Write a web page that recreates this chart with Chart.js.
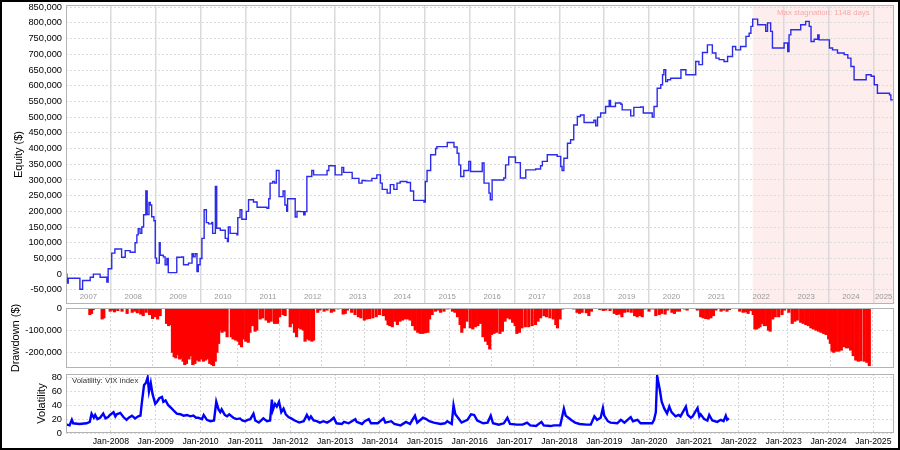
<!DOCTYPE html>
<html>
<head>
<meta charset="utf-8">
<script src="https://cdn.jsdelivr.net/npm/chart.js@4.4.1/dist/chart.umd.min.js"></script>
<style>
  body { margin: 0; background: #fff; }
  #wrap { position: relative; width: 900px; height: 450px; overflow: hidden; background: #fff; }
  #wrap canvas { position: absolute; left: 0; }
  #edge { position: absolute; left: 0; top: 0; width: 900px; height: 450px; box-sizing: border-box; border: 2px solid #000; pointer-events: none; }
</style>
</head>
<body>
<div id="wrap">
  <canvas id="equityGraph" width="900" height="306" style="top:0"></canvas>
  <canvas id="ddGraph" width="900" height="92" style="top:290px"></canvas>
  <canvas id="vixGraph" width="900" height="80" style="top:370px"></canvas>
  <div id="edge"></div>
</div>
<script>
// x range in decimal years
var xMin = 2007.0, xMax = 2025.46;
var janYears = [2008,2009,2010,2011,2012,2013,2014,2015,2016,2017,2018,2019,2020,2021,2022,2023,2024,2025];
var bandYears = [2007,2008,2009,2010,2011,2012,2013,2014,2015,2016,2017,2018,2019,2020,2021,2022,2023,2024,2025];

var stagnationStart = 2022.31;
var stagnationLabel = "Max stagnation: 1148 days";

// equity curve ($), step points
var equityX = [2007.00,2007.02,2007.05,2007.31,2007.37,2007.54,2007.61,2007.76,2007.91,2007.94,
  2008.02,2008.09,2008.24,2008.32,2008.43,2008.54,2008.58,2008.61,2008.65,2008.69,2008.73,2008.78,2008.81,2008.85,2008.88,2008.91,2008.96,2008.99,
  2009.02,2009.08,2009.10,2009.17,2009.21,2009.25,2009.28,2009.47,2009.58,2009.62,2009.73,2009.81,2009.84,2009.88,2009.92,2009.95,2009.99,
  2010.03,2010.08,2010.13,2010.18,2010.25,2010.27,2010.33,2010.36,2010.44,2010.55,2010.60,2010.62,2010.66,2010.81,2010.83,2010.88,2010.92,
  2011.02,2011.07,2011.18,2011.26,2011.48,2011.52,2011.55,2011.61,2011.65,2011.69,2011.75,2011.84,2011.88,2011.92,2011.94,
  2012.07,2012.11,2012.15,2012.22,2012.30,2012.33,2012.37,2012.48,2012.52,2012.82,2012.86,
  2013.00,2013.15,2013.19,2013.38,2013.53,2013.60,2013.67,2013.82,2013.93,
  2014.01,2014.05,2014.16,2014.23,2014.31,2014.38,2014.45,2014.60,2014.68,2014.75,2014.98,
  2015.01,2015.05,2015.13,2015.24,2015.27,2015.50,2015.65,2015.72,2015.76,2015.80,2015.87,2015.98,
  2016.02,2016.28,2016.32,2016.43,2016.46,2016.50,2016.76,2016.80,2016.87,
  2017.02,2017.13,2017.25,2017.47,2017.58,2017.62,2017.73,2017.95,
  2018.03,2018.06,2018.10,2018.18,2018.25,2018.32,2018.40,2018.47,2018.55,2018.77,2018.81,2018.85,2018.92,
  2019.03,2019.11,2019.14,2019.25,2019.37,2019.40,2019.59,2019.66,2019.81,2019.87,
  2020.07,2020.11,2020.18,2020.26,2020.30,2020.33,2020.37,2020.41,2020.48,2020.71,2020.82,
  2021.04,2021.11,2021.19,2021.30,2021.41,2021.49,2021.56,2021.67,2021.75,2021.86,2021.93,
  2022.04,2022.16,2022.23,2022.27,2022.31,2022.42,2022.60,2022.64,2022.71,2022.75,
  2023.01,2023.09,2023.12,2023.16,2023.38,2023.49,2023.57,2023.61,2023.68,2023.76,2023.79,
  2024.02,2024.09,2024.20,2024.35,2024.43,2024.50,2024.57,2024.84,2024.95,
  2025.02,2025.09,2025.36,2025.39,2025.46];
var equityY = [0,-28000,-13000,-48000,-20000,-10000,0,-10000,-25000,17000,
  67000,80000,54000,75000,70000,100000,125000,145000,130000,150000,189000,265000,190000,228000,220000,183000,170000,51000,
  35000,100000,60000,55000,30000,50000,5000,54000,55000,30000,35000,65000,55000,65000,8000,30000,50000,
  114000,205000,164000,160000,165000,130000,279000,146000,140000,114000,104000,150000,130000,125000,180000,205000,175000,
  200000,237000,230000,213000,210000,240000,290000,295000,290000,330000,247000,265000,220000,200000,240000,
  240000,182000,200000,199000,189000,199000,311000,330000,316000,330000,345000,
  316000,340000,324000,305000,290000,298000,297000,305000,316000,
  290000,270000,258000,285000,270000,290000,295000,292000,265000,235000,230000,
  295000,330000,380000,400000,406000,419000,405000,385000,348000,311000,330000,359000,
  327000,354000,290000,258000,237000,300000,306000,348000,373000,
  355000,306000,332000,335000,345000,359000,380000,375000,
  343000,330000,369000,417000,428000,475000,502000,507000,483000,490000,472000,500000,513000,
  534000,553000,534000,545000,541000,523000,504000,531000,532000,513000,
  500000,534000,592000,603000,635000,651000,613000,619000,624000,651000,635000,
  677000,667000,706000,730000,704000,688000,683000,677000,693000,725000,714000,
  725000,757000,767000,789000,812000,794000,773000,800000,773000,720000,
  736000,709000,762000,778000,794000,805000,789000,741000,748000,762000,746000,
  720000,714000,704000,699000,688000,661000,619000,635000,630000,
  603000,576000,571000,555000,555000];

// drawdown bars ($)
var ddX = [2007.02,2007.06,2007.10,2007.31,2007.35,2007.50,2007.55,2007.60,2007.68,2007.78,2007.90,
  2008.02,2008.08,2008.14,2008.22,2008.28,2008.35,2008.43,2008.50,2008.56,2008.62,2008.68,2008.83,2008.88,2008.93,2008.97,
  2009.01,2009.05,2009.10,2009.14,2009.18,2009.22,2009.26,2009.30,2009.36,2009.41,2009.45,2009.50,2009.56,2009.60,2009.65,2009.70,2009.75,2009.80,2009.85,2009.90,2009.94,2009.98,
  2010.02,2010.06,2010.10,2010.14,2010.20,2010.26,2010.36,2010.40,2010.46,2010.52,2010.56,2010.60,2010.64,2010.70,2010.76,2010.80,2010.86,2010.92,2010.96,
  2011.04,2011.10,2011.18,2011.24,2011.30,2011.38,2011.45,2011.50,2011.58,2011.63,2011.75,2011.80,2011.85,2011.90,2011.94,
  2012.00,2012.06,2012.10,2012.15,2012.20,2012.26,2012.30,2012.40,2012.45,2012.55,2012.62,2012.72,2012.78,2012.88,
  2013.00,2013.05,2013.10,2013.20,2013.28,2013.36,2013.42,2013.50,2013.56,2013.62,2013.70,2013.78,2013.86,2013.95,
  2014.02,2014.06,2014.10,2014.16,2014.22,2014.28,2014.34,2014.40,2014.46,2014.52,2014.58,2014.64,2014.70,2014.76,2014.82,2014.88,2014.94,
  2015.00,2015.04,2015.10,2015.18,2015.24,2015.30,2015.38,2015.46,2015.58,2015.64,2015.70,2015.76,2015.80,2015.86,2015.92,
  2016.00,2016.06,2016.12,2016.18,2016.24,2016.30,2016.36,2016.42,2016.46,2016.50,2016.56,2016.62,2016.70,2016.76,2016.82,2016.88,2016.94,
  2017.00,2017.06,2017.10,2017.16,2017.22,2017.30,2017.38,2017.46,2017.54,2017.60,2017.66,2017.74,2017.80,2017.88,2017.96,
  2018.02,2018.06,2018.12,2018.18,2018.26,2018.44,2018.52,2018.58,2018.64,2018.74,2018.80,2018.86,
  2019.06,2019.14,2019.20,2019.30,2019.40,2019.46,2019.52,2019.58,2019.64,2019.72,2019.80,2019.88,2019.94,
  2020.00,2020.06,2020.12,2020.22,2020.30,2020.38,2020.46,2020.52,2020.60,2020.66,2020.76,2020.82,2020.88,2020.94,
  2021.06,2021.12,2021.36,2021.44,2021.50,2021.56,2021.62,2021.68,2021.74,2021.80,2021.92,2021.98,
  2022.06,2022.12,2022.36,2022.44,2022.50,2022.56,2022.62,2022.68,2022.72,2022.76,2022.80,2022.84,2022.88,2022.94,
  2023.00,2023.04,2023.08,2023.14,2023.20,2023.28,2023.36,2023.42,2023.52,2023.60,2023.66,2023.72,2023.80,2023.86,2023.92,2023.98,
  2024.04,2024.10,2024.16,2024.22,2024.28,2024.34,2024.40,2024.46,2024.50,2024.54,2024.58,2024.64,2024.70,2024.76,2024.82,2024.88,2024.94,2024.98,
  2025.04,2025.10,2025.16,2025.22,2025.30,2025.36,2025.42];
var ddY = [-30000,-25000,-8000,-50000,-45000,-15000,-10000,-18000,-12000,-15000,-25000,
  -20000,-15000,-22000,-28000,-35000,-20000,-30000,-48000,-40000,-50000,-35000,-70000,-80000,-75000,-200000,
  -220000,-225000,-210000,-230000,-225000,-240000,-255000,-250000,-230000,-215000,-255000,-250000,-235000,-240000,-230000,-240000,-235000,-230000,-250000,-255000,-260000,-240000,
  -200000,-160000,-100000,-110000,-105000,-130000,-130000,-140000,-145000,-150000,-165000,-175000,-140000,-150000,-155000,-110000,-80000,-105000,-100000,
  -50000,-45000,-55000,-65000,-60000,-70000,-70000,-40000,-30000,-35000,-85000,-70000,-110000,-130000,-90000,
  -95000,-100000,-150000,-140000,-145000,-150000,-145000,-20000,-10000,-15000,-10000,-20000,-15000,-5000,
  -28000,-25000,-10000,-20000,-30000,-40000,-45000,-55000,-50000,-48000,-45000,-40000,-30000,-35000,
  -55000,-75000,-80000,-85000,-60000,-75000,-60000,-55000,-50000,-50000,-55000,-80000,-100000,-110000,-115000,-115000,-112000,
  -110000,-50000,-30000,-15000,-10000,-20000,-15000,-5000,-15000,-20000,-40000,-75000,-110000,-90000,-60000,
  -90000,-95000,-85000,-80000,-70000,-130000,-150000,-165000,-185000,-120000,-115000,-110000,-115000,-105000,-60000,-45000,-50000,
  -65000,-80000,-115000,-110000,-90000,-85000,-85000,-80000,-75000,-60000,-45000,-35000,-40000,-45000,-50000,
  -75000,-90000,-50000,-5000,-3000,-5000,-20000,-25000,-20000,-22000,-35000,-15000,
  -8000,-12000,-10000,-12000,-25000,-30000,-28000,-40000,-20000,-18000,-20000,-35000,-40000,
  -35000,-40000,-5000,-15000,-5000,-35000,-30000,-25000,-28000,-10000,-20000,-25000,-15000,-15000,
  -5000,-10000,-10000,-40000,-45000,-48000,-50000,-45000,-35000,-10000,-15000,-10000,
  -15000,-8000,-15000,-20000,-18000,-25000,-12000,-30000,-95000,-95000,-90000,-85000,-70000,-80000,
  -80000,-100000,-105000,-50000,-40000,-40000,-30000,-10000,-20000,-70000,-60000,-55000,-65000,-70000,-75000,-80000,
  -90000,-95000,-100000,-105000,-110000,-115000,-120000,-140000,-160000,-195000,-200000,-195000,-195000,-190000,-175000,-180000,-180000,-190000,
  -215000,-235000,-240000,-238000,-240000,-245000,-260000];

// VIX index
var vixX = [2007.02,2007.08,2007.13,2007.16,2007.30,2007.46,2007.53,2007.57,2007.62,2007.65,2007.70,2007.76,2007.83,2007.88,2007.94,2007.98,
  2008.06,2008.10,2008.13,2008.21,2008.28,2008.35,2008.40,2008.47,2008.54,2008.61,2008.66,2008.69,2008.74,2008.78,2008.82,2008.85,2008.89,2008.93,2008.99,
  2009.03,2009.08,2009.14,2009.17,2009.22,2009.28,2009.36,2009.42,2009.47,2009.55,2009.62,2009.70,2009.77,2009.84,2009.90,2009.95,
  2010.03,2010.07,2010.14,2010.22,2010.30,2010.35,2010.40,2010.44,2010.47,2010.54,2010.59,2010.64,2010.73,2010.80,2010.88,2010.93,2010.99,
  2011.05,2011.11,2011.18,2011.22,2011.30,2011.40,2011.48,2011.55,2011.59,2011.61,2011.66,2011.70,2011.75,2011.80,2011.85,2011.90,2011.96,
  2012.02,2012.10,2012.20,2012.30,2012.37,2012.42,2012.46,2012.52,2012.59,2012.66,2012.74,2012.82,2012.90,2012.97,
  2013.03,2013.15,2013.20,2013.30,2013.45,2013.48,2013.60,2013.66,2013.75,2013.80,2013.95,
  2014.08,2014.12,2014.25,2014.32,2014.46,2014.58,2014.67,2014.78,2014.83,2014.96,
  2015.03,2015.10,2015.20,2015.35,2015.45,2015.50,2015.60,2015.64,2015.68,2015.74,2015.82,2015.95,
  2016.03,2016.10,2016.17,2016.30,2016.40,2016.47,2016.52,2016.65,2016.76,2016.84,2016.90,
  2017.05,2017.18,2017.28,2017.35,2017.48,2017.60,2017.65,2017.80,2017.88,
  2018.02,2018.10,2018.14,2018.20,2018.28,2018.35,2018.45,2018.60,2018.70,2018.78,2018.84,2018.92,2018.97,
  2019.00,2019.08,2019.14,2019.29,2019.37,2019.45,2019.59,2019.64,2019.74,2019.81,2019.96,
  2020.07,2020.11,2020.15,2020.18,2020.24,2020.28,2020.34,2020.40,2020.45,2020.50,2020.59,2020.66,2020.70,2020.82,2020.86,2020.93,2020.97,
  2021.08,2021.12,2021.15,2021.23,2021.30,2021.34,2021.41,2021.52,2021.60,2021.66,2021.71,2021.74,2021.78];
var vixY = [12,11,19,14,13,14,16,28,22,26,20,22,28,21,23,26,
  30,24,27,29,23,19,22,25,21,24,25,43,69,72,80,60,72,56,42,
  45,50,52,45,47,40,35,31,28,27,25,26,24,25,22,22,
  20,26,19,17,18,45,34,30,34,26,24,27,22,20,21,18,17,
  19,20,28,18,15,21,17,18,48,33,42,38,45,30,35,27,23,
  21,18,15,17,26,20,24,18,17,15,17,15,18,22,
  14,13,16,14,20,16,13,17,20,14,14,
  21,15,17,13,11,16,13,25,15,22,
  20,17,15,13,14,17,13,40,27,22,15,19,
  27,26,18,14,15,25,14,12,14,22,13,
  12,12,15,11,10,16,11,10,11,
  11,35,25,22,18,15,13,12,12,24,19,22,36,
  25,17,15,14,19,15,23,17,19,14,14,
  14,19,30,82,62,45,35,28,38,30,24,26,24,38,26,22,24,
  36,24,27,20,18,26,18,16,19,17,25,19,21];

var font = "'Liberation Sans', Arial, sans-serif";

function pts(xs, ys) {
  return xs.map(function (x, i) { return { x: x, y: ys[i] }; });
}

function xAxis(showLabels, dotted) {
  return {
    type: 'linear', min: xMin, max: xMax,
    afterBuildTicks: function (s) { s.ticks = janYears.map(function (v) { return { value: v }; }); },
    afterFit: function (s) { s.height = showLabels ? 17 : 0; s.paddingLeft = 0; s.paddingRight = 0; },
    grid: { color: dotted ? '#d4d4d4' : '#dadada', lineWidth: dotted ? 1 : 1.5, drawTicks: false },
    border: { display: false, dash: dotted ? [2, 2] : [] },
    ticks: {
      display: showLabels, color: '#000', padding: 3, autoSkip: false, maxRotation: 0,
      font: { family: font, size: 8.7 },
      callback: function (v) { return 'Jan-' + v; }
    }
  };
}

function yAxis(title, titlePad, min, max, tickVals) {
  return {
    min: min, max: max,
    afterBuildTicks: function (s) { s.ticks = tickVals.map(function (v) { return { value: v }; }); },
    afterFit: function (s) { s.width = 66; s.paddingTop = 0; s.paddingBottom = 0; },
    grid: { color: '#dcdcdc', drawTicks: false },
    border: { display: false, dash: [2, 2] },
    ticks: {
      color: '#000', padding: 4, font: { family: font, size: 9.3 },
      callback: function (v) { return v.toLocaleString('en-US'); }
    },
    title: { display: true, text: title, color: '#000', font: { family: font, size: 11 }, padding: { top: titlePad, bottom: 0 } }
  };
}

// light grey box round each plot
var frameBox = {
  id: 'frameBox',
  afterDraw: function (c) {
    var a = c.chartArea, ctx = c.ctx;
    ctx.save();
    ctx.strokeStyle = '#b4b4b4';
    ctx.lineWidth = 1;
    ctx.strokeRect(Math.round(a.left) + 0.5, Math.round(a.top) + 0.5, Math.round(a.right - a.left) - 1, Math.round(a.bottom - a.top) - 1);
    ctx.restore();
  }
};

// pink stagnation band + year labels inside top plot
var equityExtras = {
  id: 'equityExtras',
  beforeDraw: function (c) {
    var a = c.chartArea, ctx = c.ctx, xs = c.scales.x;
    var x0 = xs.getPixelForValue(stagnationStart);
    ctx.save();
    ctx.fillStyle = '#fdeded';
    ctx.fillRect(x0, a.top, a.right - x0, a.bottom - a.top);
    ctx.restore();
  },
  afterDatasetsDraw: function (c) {
    var a = c.chartArea, ctx = c.ctx, xs = c.scales.x;
    var x0 = xs.getPixelForValue(stagnationStart);
    ctx.save();
    ctx.font = '7.8px ' + font;
    ctx.textAlign = 'center';
    ctx.textBaseline = 'middle';
    ctx.fillStyle = '#f3abab';
    ctx.fillText(stagnationLabel, (x0 + a.right) / 2, a.top + 8);
    ctx.fillStyle = '#999';
    bandYears.forEach(function (y) {
      var l = xs.getPixelForValue(Math.max(y, xMin));
      var r = xs.getPixelForValue(Math.min(y + 1, xMax));
      ctx.fillText(String(y), (l + r) / 2, a.bottom - 7);
    });
    ctx.restore();
  }
};

var vixLabel = {
  id: 'vixLabel',
  afterDatasetsDraw: function (c) {
    var a = c.chartArea, ctx = c.ctx;
    ctx.save();
    ctx.font = '7.8px ' + font;
    ctx.fillStyle = '#333';
    ctx.textBaseline = 'middle';
    ctx.fillText('Volatility: VIX index', a.left + 6, a.top + 7);
    ctx.restore();
  }
};

var common = { responsive: false, animation: false, plugins: { legend: { display: false }, tooltip: { enabled: false } } };

var equityTicks = [-50000,0,50000,100000,150000,200000,250000,300000,350000,400000,450000,500000,550000,600000,650000,700000,750000,800000,850000];
var ddTicks = [-200000,-100000,0];
var vixTicks = [0,20,40,60,80];

new Chart(document.getElementById('equityGraph'), {
  type: 'line',
  data: { datasets: [{ data: pts(equityX, equityY), borderColor: '#2b2bea', borderWidth: 1.4, pointRadius: 0, stepped: true, fill: false }] },
  options: Object.assign({}, common, {
    layout: { padding: { top: 5, right: 6, bottom: 2, left: 0 } },
    scales: { x: xAxis(false, false), y: yAxis('Equity ($)', 12, -95000, 857000, equityTicks) }
  }),
  plugins: [equityExtras, frameBox]
});

new Chart(document.getElementById('ddGraph'), {
  type: 'bar',
  data: { datasets: [{ data: pts(ddX, ddY), backgroundColor: '#ff0000', barThickness: 2.5, borderWidth: 0 }] },
  options: Object.assign({}, common, {
    layout: { padding: { top: 18, right: 6, bottom: 14, left: 0 } },
    scales: { x: xAxis(false, true), y: yAxis('Drawdown ($)', 9, -270000, 0, ddTicks) }
  }),
  plugins: [frameBox]
});

new Chart(document.getElementById('vixGraph'), {
  type: 'line',
  data: { datasets: [{ data: pts(vixX, vixY), borderColor: '#0000ff', borderWidth: 2.4, pointRadius: 0, tension: 0, fill: false }] },
  options: Object.assign({}, common, {
    layout: { padding: { top: 4, right: 6, bottom: 0, left: 0 } },
    scales: { x: xAxis(true, true), y: yAxis('Volatility', 35, 0, 85, vixTicks) }
  }),
  plugins: [vixLabel, frameBox]
});
</script>
</body>
</html>
